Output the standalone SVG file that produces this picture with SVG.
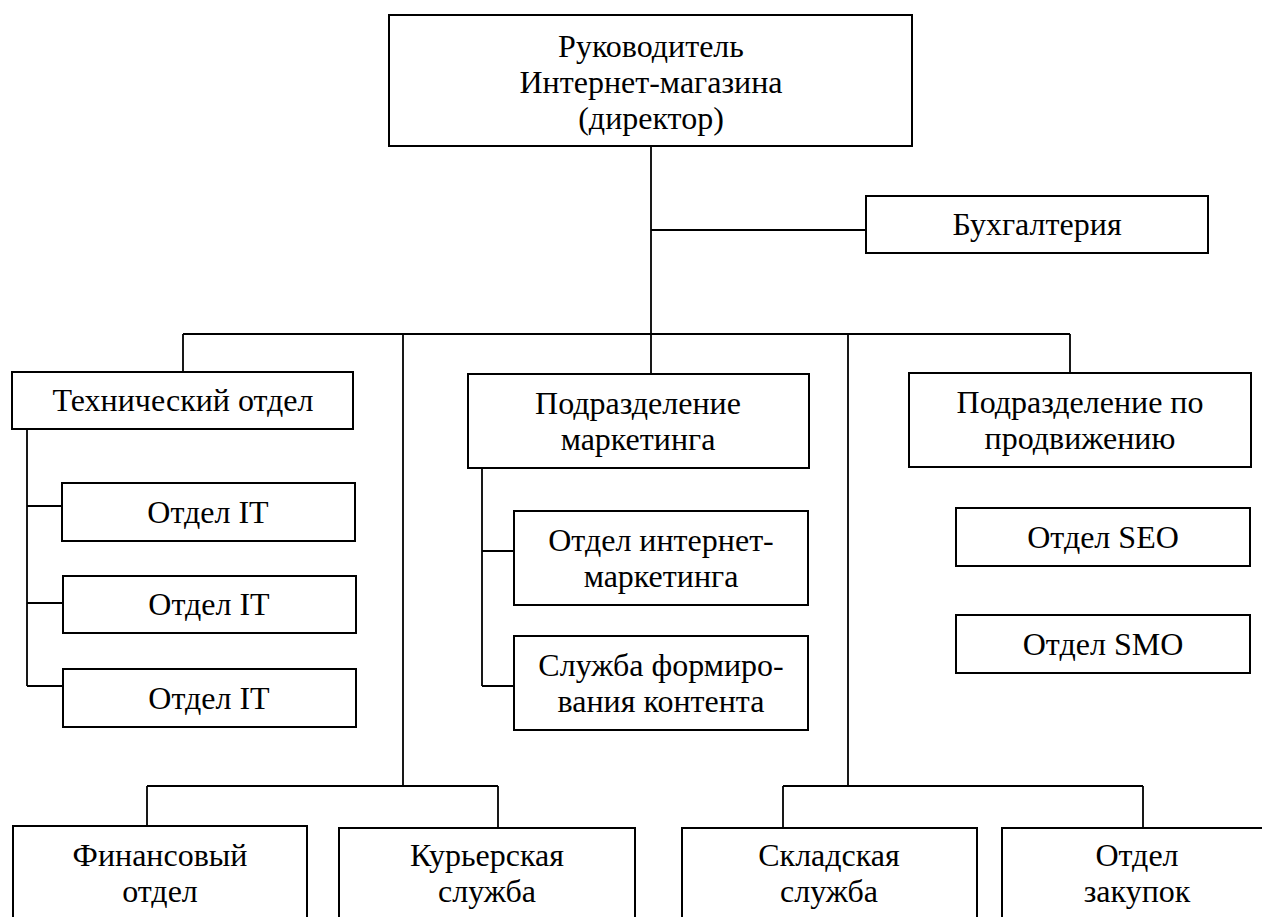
<svg xmlns="http://www.w3.org/2000/svg" width="1262" height="917" viewBox="0 0 1262 917">
<style>
.box{fill:#fff;stroke:#000;stroke-width:2}
.ln{fill:none;stroke:#000;stroke-width:1.8}
.t{font-family:'Liberation Serif','Times New Roman',serif;font-size:32px;fill:#000;text-anchor:middle}
</style>
<rect width="1262" height="917" fill="#fff"/>
<g id="connectors">
<path class="ln" d="M651 146V334M651 230H866M183 334H1070M183 334V372M403 334V786M651 334V374M848 334V786M1070 334V373"/>
<path class="ln" d="M27 429V686M27 506H62M27 603H63M27 686H63"/>
<path class="ln" d="M482 468V686M482 551H514M482 686H514"/>
<path class="ln" d="M147 786H498M147 786V826M498 786V828M783 786H1143M783 786V828M1143 786V828"/>
</g>
<g id="director"><rect class="box" x="389" y="15" width="523" height="131"/>
<text class="t" x="651" y="57">Руководитель</text><text class="t" x="651" y="93">Интернет-магазина</text><text class="t" x="651" y="129">(директор)</text></g>
<g id="accounting"><rect class="box" x="866" y="196" width="342" height="57"/><text class="t" x="1037" y="235">Бухгалтерия</text></g>
<g id="tech"><rect class="box" x="12" y="372" width="341" height="57"/><text class="t" x="183" y="411">Технический отдел</text></g>
<g id="it1"><rect class="box" x="62" y="483" width="293" height="58"/><text class="t" x="208" y="523">Отдел IT</text></g>
<g id="it2"><rect class="box" x="63" y="576" width="293" height="57"/><text class="t" x="209" y="615">Отдел IT</text></g>
<g id="it3"><rect class="box" x="63" y="669" width="293" height="58"/><text class="t" x="209" y="709">Отдел IT</text></g>
<g id="marketing"><rect class="box" x="468" y="374" width="341" height="94"/><text class="t" x="638" y="414">Подразделение</text><text class="t" x="638" y="450">маркетинга</text></g>
<g id="internet"><rect class="box" x="514" y="511" width="294" height="94"/><text class="t" x="661" y="551">Отдел интернет-</text><text class="t" x="661" y="587">маркетинга</text></g>
<g id="content"><rect class="box" x="514" y="636" width="294" height="94"/><text class="t" x="661" y="676">Служба формиро-</text><text class="t" x="661" y="712">вания контента</text></g>
<g id="promo"><rect class="box" x="909" y="373" width="342" height="94"/><text class="t" x="1080" y="413">Подразделение по</text><text class="t" x="1080" y="449">продвижению</text></g>
<g id="seo"><rect class="box" x="956" y="508" width="294" height="58"/><text class="t" x="1103" y="548">Отдел SEO</text></g>
<g id="smo"><rect class="box" x="956" y="615" width="294" height="58"/><text class="t" x="1103" y="655">Отдел SMO</text></g>
<g id="finance"><rect class="box" x="13" y="826" width="294" height="110"/><text class="t" x="160" y="866">Финансовый</text><text class="t" x="160" y="902">отдел</text></g>
<g id="courier"><rect class="box" x="339" y="828" width="296" height="110"/><text class="t" x="487" y="866">Курьерская</text><text class="t" x="487" y="902">служба</text></g>
<g id="warehouse"><rect class="box" x="682" y="828" width="295" height="110"/><text class="t" x="829" y="866">Складская</text><text class="t" x="829" y="902">служба</text></g>
<g id="purchase"><rect class="box" x="1002" y="828" width="280" height="110"/><text class="t" x="1137" y="866">Отдел</text><text class="t" x="1137" y="902">закупок</text></g>
</svg>
